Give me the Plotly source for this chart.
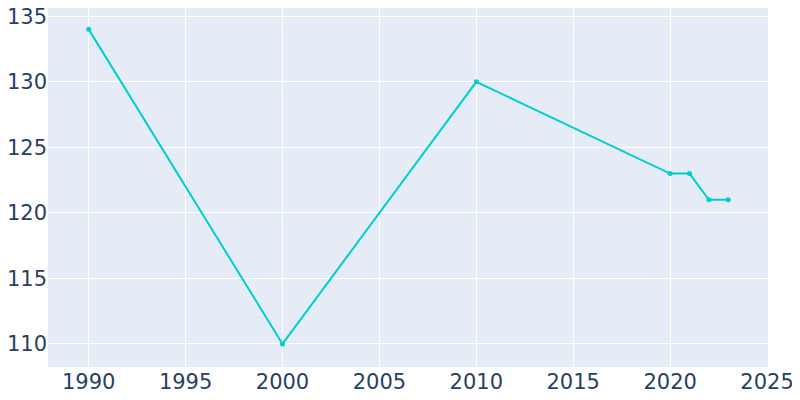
import plotly.graph_objects as go

years = [1990, 2000, 2010, 2020, 2021, 2022, 2023]
population = [134, 110, 130, 123, 123, 121, 121]

fig = go.Figure(go.Scatter(
    x=years, y=population, mode="lines+markers",
    line=dict(color="#00CED1", width=2),
    marker=dict(color="#00CED1", size=5),
))
fig.update_layout(
    template="plotly",
    width=800, height=400,
    margin=dict(l=40, r=40, t=0, b=41),
    font=dict(family="DejaVu Sans", size=21, color="#2a3f5f"),
    showlegend=False,
    xaxis=dict(range=[1987.9, 2025.05], tickvals=[1990, 1995, 2000, 2005, 2010, 2015, 2020, 2025],
               ticklabeloverflow="allow", automargin=False),
    yaxis=dict(range=[108.24, 135.63], tickvals=[110, 115, 120, 125, 130, 135],
               ticklabeloverflow="allow", automargin=False),
)
fig.write_html("out.html")
